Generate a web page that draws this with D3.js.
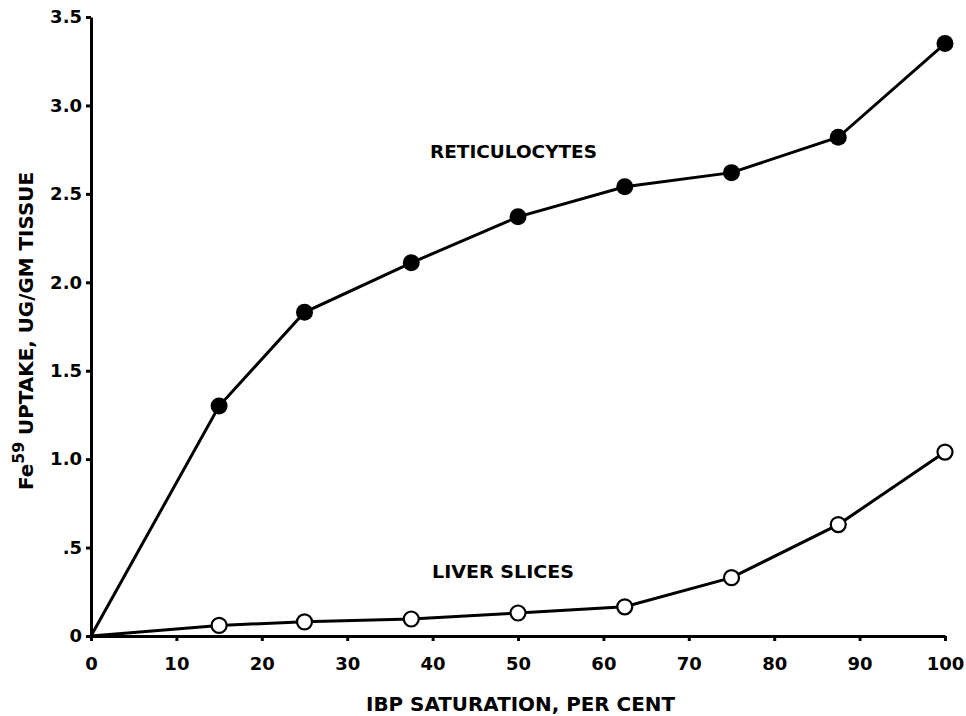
<!DOCTYPE html>
<html>
<head>
<meta charset="utf-8">
<script src="https://cdn.jsdelivr.net/npm/d3@7"></script>
<style>
  html, body { margin: 0; padding: 0; background: #fff; }
  svg { display: block; font-family: "DejaVu Sans", "Liberation Sans", sans-serif; font-weight: bold; }
</style>
</head>
<body>
<svg id="chart" width="966" height="716"></svg>
<script>
// ---- data ----
const saturation = [0, 15, 25, 37.5, 50, 62.5, 75, 87.5, 100];
const reticulocytes = [0, 1.30, 1.83, 2.11, 2.37, 2.54, 2.62, 2.82, 3.35];
const liverSlices = [0, 0.06, 0.08, 0.096, 0.13, 0.165, 0.33, 0.63, 1.04];
const xTicks = [0, 10, 20, 30, 40, 50, 60, 70, 80, 90, 100];
const yTicks = [0, 0.5, 1.0, 1.5, 2.0, 2.5, 3.0, 3.5];
const yTickLabels = ["0", ".5", "1.0", "1.5", "2.0", "2.5", "3.0", "3.5"];

const svg = d3.select("#chart");
const x = d3.scaleLinear().domain([0, 100]).range([91, 945]);
const y = d3.scaleLinear().domain([0, 3.5]).range([636, 17]);

// axes
const xAxis = d3.axisBottom(x).tickValues(xTicks).tickSize(5).tickPadding(16).tickSizeOuter(0);
const gx = svg.append("g").attr("transform", `translate(0,${y(0)})`).call(xAxis);
gx.select(".domain").attr("stroke-width", 3);
gx.selectAll(".tick line").attr("stroke-width", 3);
gx.selectAll(".tick text").attr("font-size", 18).attr("font-weight", "bold").attr("fill", "#000")
  .attr("font-family", "DejaVu Sans, sans-serif").attr("dy", null).attr("y", 34);

const yAxis = d3.axisLeft(y).tickValues(yTicks).tickFormat((d, i) => yTickLabels[i])
  .tickSize(5).tickPadding(4).tickSizeOuter(0);
const gy = svg.append("g").attr("transform", `translate(${x(0)},0)`).call(yAxis);
gy.select(".domain").attr("stroke-width", 3);
gy.selectAll(".tick line").attr("stroke-width", 3);
gy.selectAll(".tick text").attr("font-size", 18).attr("font-weight", "bold").attr("fill", "#000")
  .attr("font-family", "DejaVu Sans, sans-serif");

// lines
const line = d3.line().x((d, i) => x(saturation[i])).y(d => y(d));
svg.append("path").datum(reticulocytes).attr("d", line)
  .attr("fill", "none").attr("stroke", "#000").attr("stroke-width", 3);
svg.append("path").datum(liverSlices).attr("d", line)
  .attr("fill", "none").attr("stroke", "#000").attr("stroke-width", 3);

// markers (skip origin)
svg.append("g").selectAll("circle")
  .data(reticulocytes.slice(1))
  .join("circle")
  .attr("cx", (d, i) => x(saturation[i + 1]))
  .attr("cy", d => y(d))
  .attr("r", 8.5)
  .attr("fill", "#000");

svg.append("g").selectAll("circle")
  .data(liverSlices.slice(1))
  .join("circle")
  .attr("cx", (d, i) => x(saturation[i + 1]))
  .attr("cy", d => y(d))
  .attr("r", 7.5)
  .attr("fill", "#fff")
  .attr("stroke", "#000")
  .attr("stroke-width", 2.2);

// series labels
svg.append("text").attr("x", 430).attr("y", 158).attr("font-size", 18)
  .attr("textLength", 167).attr("lengthAdjust", "spacingAndGlyphs")
  .text("RETICULOCYTES");
svg.append("text").attr("x", 432).attr("y", 578).attr("font-size", 18)
  .attr("textLength", 142).attr("lengthAdjust", "spacingAndGlyphs")
  .text("LIVER SLICES");

// axis titles
svg.append("text").attr("x", 366).attr("y", 711).attr("font-size", 19)
  .attr("textLength", 309).attr("lengthAdjust", "spacingAndGlyphs")
  .text("IBP SATURATION,  PER CENT");

const yt = svg.append("text")
  .attr("transform", "translate(33,490) rotate(-90)")
  .attr("font-size", 19)
  .attr("textLength", 318).attr("lengthAdjust", "spacingAndGlyphs");
yt.append("tspan").text("Fe");
yt.append("tspan").attr("font-size", 15).attr("dy", -9).text("59");
yt.append("tspan").attr("dy", 9).text(" UPTAKE, UG/GM TISSUE");
</script>
</body>
</html>
